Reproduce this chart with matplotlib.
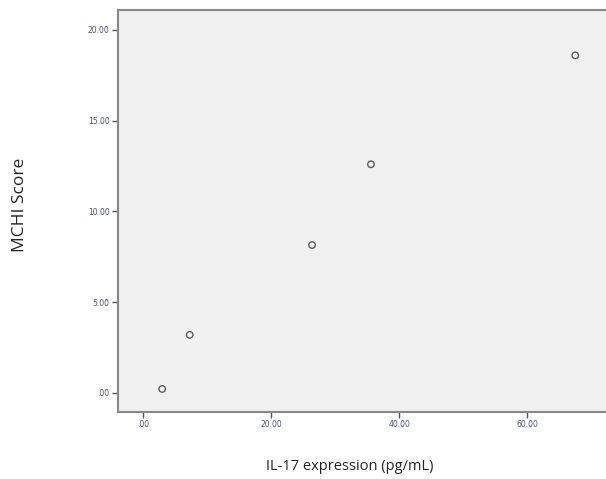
import matplotlib
matplotlib.use("Agg")
import matplotlib.pyplot as plt

il17 = [3.0, 7.3, 26.4, 35.6, 67.5]
mchi = [0.22, 3.2, 8.15, 12.6, 18.6]
xticks = [0, 20, 40, 60]
yticks = [0, 5, 10, 15, 20]
xtick_labels = [".00", "20.00", "40.00", "60.00"]
ytick_labels = [".00", "5.00", "10.00", "15.00", "20.00"]

fig = plt.figure(figsize=(6.06, 4.79), dpi=100)
ax = fig.add_axes([118/606, 67/479, 1 - 118/606, (412-10)/479])
ax.set_facecolor("#f0f0f0")
ax.scatter(il17, mchi, s=22, facecolors="none", edgecolors="#5a5a5a", linewidths=1.0, zorder=3)
ax.set_xlim(-3.9, 72.3)
ax.set_ylim(-1.05, 21.1)
ax.set_xticks(xticks)
ax.set_xticklabels(xtick_labels)
ax.set_yticks(yticks)
ax.set_yticklabels(ytick_labels)
ax.tick_params(axis="both", direction="out", length=4, width=1, color="#555555",
               labelsize=5.5, labelcolor="#4a5068", pad=2)
for side in ["left", "bottom", "top"]:
    ax.spines[side].set_color("#888888")
    ax.spines[side].set_linewidth(1.5)
ax.spines["right"].set_visible(False)
fig.text(20/606, 1 - 205/479, "MCHI Score", rotation=90, ha="center", va="center",
         fontsize=12.5, color="#222222", family="Open Sans")
fig.text(350/606, 1 - 466/479, "IL-17 expression (pg/mL)", ha="center", va="center",
         fontsize=10.5, color="#222222", family="Open Sans")
fig.savefig("out.png", dpi=100)
